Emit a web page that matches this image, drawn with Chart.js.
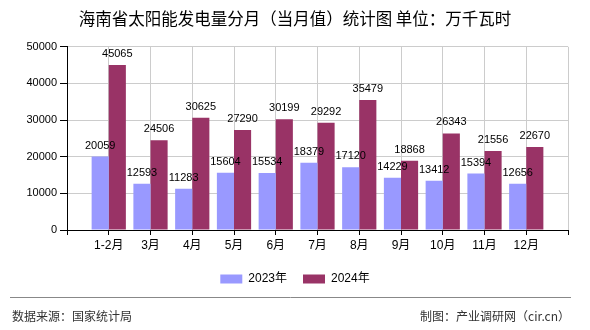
<!DOCTYPE html>
<html>
<head>
<meta charset="utf-8">
<script src="https://cdn.jsdelivr.net/npm/chart.js@4.4.0/dist/chart.umd.min.js"></script>
<style>
  html, body { margin: 0; padding: 0; background: #fff; }
  #wrap { width: 590px; height: 330px; }
</style>
</head>
<body>
<div id="wrap"><canvas id="solarChart" width="590" height="330"></canvas></div>
<script>
// Monthly solar generation, Hainan (10k kWh)
const months = ['1-2月', '3月', '4月', '5月', '6月', '7月', '8月', '9月', '10月', '11月', '12月'];
const values2023 = [20059, 12593, 11283, 15604, 15534, 18379, 17120, 14229, 13412, 15394, 12656];
const values2024 = [45065, 24506, 30625, 27290, 30199, 29292, 35479, 18868, 26343, 21556, 22670];
const yTicks = [0, 10000, 20000, 30000, 40000, 50000];

// the axis has a blank slot at each end, months sit on the tick lines
const labels = [''].concat(months, ['']);
const pad = arr => [null].concat(arr, [null]);

const numFont = { family: '"Liberation Sans", Arial, sans-serif', size: 11 };
const cjkFont = '"Liberation Sans", "Noto Sans CJK SC", sans-serif';

// value text above every bar
const barValues = {
    id: 'barValues',
    afterDatasetsDraw(chart) {
        const ctx = chart.ctx;
        ctx.save();
        ctx.font = '11px "Liberation Sans", Arial, sans-serif';
        ctx.fillStyle = '#000';
        ctx.textAlign = 'center';
        ctx.textBaseline = 'alphabetic';
        chart.data.datasets.forEach((ds, i) => {
            chart.getDatasetMeta(i).data.forEach((bar, j) => {
                if (ds.data[j] == null) return;
                ctx.fillText(String(ds.data[j]), bar.x, bar.y - 8);
            });
        });
        ctx.restore();
    }
};

// source line at the bottom
const footer = {
    id: 'footer',
    afterDraw(chart) {
        const ctx = chart.ctx;
        ctx.save();
        ctx.strokeStyle = '#888';
        ctx.lineWidth = 1;
        ctx.beginPath();
        ctx.moveTo(10, 297.5);
        ctx.lineTo(571, 297.5);
        ctx.stroke();
        ctx.font = '12px "Noto Sans CJK SC", sans-serif';
        ctx.fillStyle = '#333';
        ctx.textBaseline = 'middle';
        ctx.textAlign = 'left';
        ctx.fillText('数据来源：国家统计局', 12, 316);
        ctx.textAlign = 'right';
        ctx.fillText('制图：产业调研网（cir.cn）', 570, 316);
        ctx.restore();
    }
};

new Chart(document.getElementById('solarChart'), {
    type: 'bar',
    data: {
        labels: labels,
        datasets: [
            { label: '2023年', data: pad(values2023), backgroundColor: '#9999ff' },
            { label: '2024年', data: pad(values2024), backgroundColor: '#993366' }
        ]
    },
    options: {
        responsive: false,
        animation: false,
        layout: { padding: { top: 0, left: 22, right: 22, bottom: 35 } },
        datasets: { bar: { categoryPercentage: 0.82, barPercentage: 1 } },
        scales: {
            x: {
                offset: false,
                grid: { offset: false, color: '#cccccc', tickColor: '#000', tickLength: 5 },
                border: { color: '#000' },
                ticks: { color: '#000', font: { family: cjkFont, size: 12 }, padding: 3, maxRotation: 0, autoSkip: false },
                afterFit(scale) { scale.height = 27; }
            },
            y: {
                min: 0,
                max: 50000,
                afterBuildTicks(scale) { scale.ticks = yTicks.map(v => ({ value: v })); },
                grid: { color: '#cccccc', tickColor: '#000', tickLength: 7 },
                border: { color: '#000' },
                ticks: { color: '#000', font: numFont, padding: 3, callback: v => String(v) },
                afterFit(scale) { scale.width = 45; }
            }
        },
        plugins: {
            title: {
                display: true,
                text: '海南省太阳能发电量分月（当月值）统计图 单位：万千瓦时',
                color: '#000',
                font: { family: '"Noto Sans CJK SC", sans-serif', size: 16.5, weight: 'normal' },
                padding: { top: 9, bottom: 18 }
            },
            legend: {
                position: 'bottom',
                labels: {
                    boxWidth: 22,
                    boxHeight: 9,
                    padding: 16,
                    color: '#000',
                    font: { family: cjkFont, size: 12 }
                }
            },
            tooltip: { enabled: false }
        }
    },
    plugins: [barValues, footer]
});
</script>
</body>
</html>
